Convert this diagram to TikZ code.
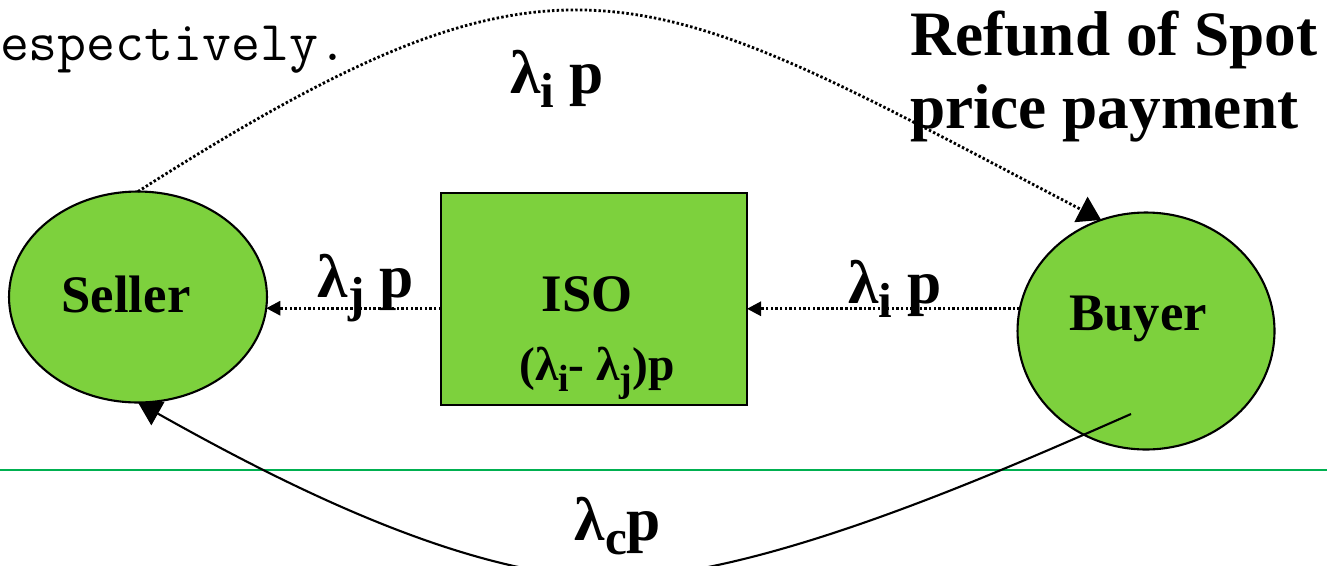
\documentclass[tikz,border=0pt]{standalone}
\usepackage{fontspec}
\usepackage{graphicx}
\setmainfont{Liberation Serif}
\usetikzlibrary{arrows.meta,shapes.geometric}
\definecolor{leaf}{RGB}{125,209,61}
\definecolor{ruleline}{RGB}{0,176,80}
\newcommand{\lam}[1]{λ\raisebox{-0.24em}{\scalebox{0.8}{#1}}}

\begin{document}
\begin{tikzpicture}[x=0.02cm,y=-0.02cm,every node/.style={inner sep=0pt, outer sep=0pt},
  party/.style={ellipse, draw, line width=1.2pt, fill=leaf},
  office/.style={rectangle, draw, line width=1.2pt, fill=leaf, minimum width=6.12cm, minimum height=4.24cm},
  whotext/.style={font=\fontsize{30}{36}\selectfont\bfseries, anchor=base},
  pricetext/.style={font=\fontsize{35}{42}\selectfont\bfseries, anchor=base},
  sharetext/.style={font=\fontsize{27}{32}\selectfont\bfseries, anchor=base},
  flow/.style={line width=1.6pt, dash pattern=on 1.4pt off 1.25pt, -{Triangle[length=8pt,width=8pt]}},
  refundflow/.style={flow, -{Triangle[length=13pt,width=16pt]}},
  pay/.style={line width=1.2pt, -{Triangle[length=13pt,width=15pt]}}]

\clip (0,0) rectangle (1327,565);

\node[font=\ttfamily\fontsize{32}{38}\selectfont, anchor=base west] (prev) at (0,60) {espectively.};
\node[font=\fontsize{36}{42}\selectfont\bfseries, anchor=base west] (refund) at (910,55) {Refund of Spot};
\node[font=\fontsize{36}{42}\selectfont\bfseries, anchor=base west] (refundb) at (910,128) {price payment};

\draw[ruleline, line width=1.6pt] (0,470) -- (1327,470);

\node[party, minimum width=5.16cm, minimum height=4.22cm] (seller) at (138,297) {};
\node[party, minimum width=5.14cm, minimum height=4.74cm] (buyer) at (1146,331) {};
\node[office] (iso) at (594,299) {};

\node[whotext] (sellername) at (126,312) {Seller};
\node[whotext] (buyername) at (1138,330) {Buyer};
\node[whotext] (isoname) at (587,311) {ISO};
\node[sharetext] (isoshare) at (597,380) {(\lam{i}- \lam{j})p};

\node[pricetext] (topprice) at (557,93) {\lam{i} p};
\node[pricetext] (sellprice) at (366,297) {\lam{j} p};
\node[pricetext] (buyprice) at (895,303) {\lam{i} p};
\node[pricetext] (contract) at (618,540) {\lam{c}p};

\coordinate (paystart) at (1131,414);
\coordinate (dip) at (612,578);

\draw[flow] (seller.-5 -| iso.west) -- (seller.-5);
\draw[flow] (buyer.170) -- (buyer.170 -| iso.east);
\draw[refundflow] (seller.north) .. controls (570,-84) and (641,-20) .. (buyer.112);
\draw[pay] (paystart) .. controls (1001,471) and (762,578) .. (dip) .. controls (462,578) and (269,476) .. (seller.south);
\end{tikzpicture}
\end{document}
